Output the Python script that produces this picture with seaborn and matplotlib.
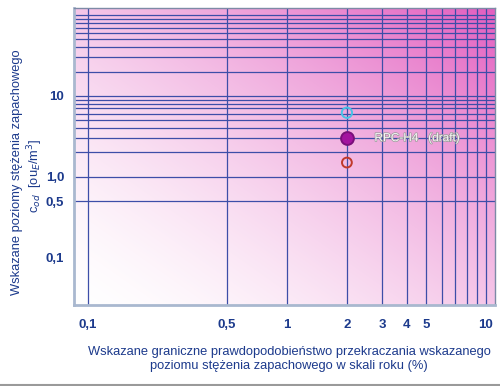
import matplotlib
matplotlib.use("Agg")
import matplotlib.pyplot as plt
import matplotlib.patheffects as pe
from matplotlib.lines import Line2D
import numpy as np
import pandas as pd
import seaborn as sns

# dane
X_GRID = [0.1, 0.5, 1, 2, 3, 4, 5, 6, 7, 8, 9, 10]
Y_GRID = [0.5, 1, 2, 3, 4, 5, 6, 7, 8, 9, 10, 20, 30, 40, 50, 60, 70, 80, 90, 100]
X_TICKS = [0.1, 0.5, 1, 2, 3, 4, 5, 10]
X_TICK_LABELS = ["0,1", "0,5", "1", "2", "3", "4", "5", "10"]
Y_TICKS = [0.1, 0.5, 1, 10]
Y_TICK_LABELS = ["0,1", "0,5", "1,0", "10"]

POINT_X = [2, 2, 2]
POINT_Y = [6.2, 3.0, 1.5]
POINT_KIND = ["cyan", "purple", "red"]

LABEL_TEXT = "RPC-H4   (draft)"
LABEL_X, LABEL_Y = 2.75, 3.0

XLIM = (0.085, 11.1)
YLIM = (0.026, 122)

BLUE = "#1c3a8c"
GRID = "#3d4ea8"

sns.set_style("white")
plt.rcParams["font.family"] = ["Liberation Sans", "DejaVu Sans"]

fig = plt.figure(figsize=(5, 3.86), dpi=100)
ax = fig.add_axes([0.148, 0.21, 0.842, 0.769])
ax.set_xscale("log")
ax.set_yscale("log")
ax.set_xlim(*XLIM)
ax.set_ylim(*YLIM)

# tło - gradient od bieli (lewy dół) do magenty (prawa góra)
n = 200
u, v = np.meshgrid(np.linspace(0, 1, n), np.linspace(1, 0, n))
t = np.clip((u + v) / 2, 0, 1) ** 1.5
white = np.array([1.0, 1.0, 1.0])
mag = np.array([0.89, 0.37, 0.75])
img = white[None, None, :] * (1 - t[..., None]) + mag[None, None, :] * t[..., None]
ax.imshow(img, extent=[0, 1, 0, 1], transform=ax.transAxes, aspect="auto",
          zorder=0, interpolation="bilinear")

for xv in X_GRID:
    ax.axvline(xv, color=GRID, lw=0.9, zorder=1)
for yv in Y_GRID:
    ax.axhline(yv, color=GRID, lw=0.9, zorder=1)

df = pd.DataFrame({"x": POINT_X, "y": POINT_Y, "kind": POINT_KIND})
faces = {"cyan": "none", "purple": "#a3139f", "red": "none"}
edges = {"cyan": "#49c4e6", "purple": "#7a0f7a", "red": "#c0392b"}
sizes = {"cyan": 55, "purple": 85, "red": 50}
for kind, sub in df.groupby("kind"):
    sns.scatterplot(data=sub, x="x", y="y", ax=ax, s=sizes[kind],
                    facecolor=faces[kind], edgecolor=edges[kind],
                    linewidth=1.4, zorder=3, legend=False)

ax.text(LABEL_X, LABEL_Y, LABEL_TEXT, fontsize=8.5, color="#f6f6f6",
        va="center", ha="left", zorder=4,
        path_effects=[pe.withStroke(linewidth=1.0, foreground="#9a9a9a")])

ax.set_xticks(X_TICKS)
ax.set_xticklabels(X_TICK_LABELS)
ax.set_yticks(Y_TICKS)
ax.set_yticklabels(Y_TICK_LABELS)
ax.minorticks_off()
ax.tick_params(length=0, labelsize=9.5, labelcolor=BLUE)
ax.tick_params(axis="x", pad=10)
ax.tick_params(axis="y", pad=7)
for lab in ax.get_xticklabels() + ax.get_yticklabels():
    lab.set_fontweight("bold")

ax.set_xlabel("")
ax.set_ylabel("")
for s in ["top", "right"]:
    ax.spines[s].set_color("#7d8aa6")
    ax.spines[s].set_linewidth(1.0)
for s in ["left", "bottom"]:
    ax.spines[s].set_color("#a9b8cf")
    ax.spines[s].set_linewidth(2.0)

fig.text(0.578, 0.07, "Wskazane graniczne prawdopodobieństwo przekraczania wskazanego\n"
         "poziomu stężenia zapachowego w skali roku (%)",
         ha="center", va="center", fontsize=9.3, color=BLUE, linespacing=1.2)
fig.text(0.034, 0.555, "Wskazane poziomy stężenia zapachowego",
         rotation=90, ha="center", va="center", fontsize=9.3, color=BLUE)
fig.text(0.071, 0.545, r"c$_{od}$  [ou$_E$/m$^3$]",
         rotation=90, ha="center", va="center", fontsize=9.3, color=BLUE)

fig.add_artist(Line2D([0, 1], [0.003, 0.003], transform=fig.transFigure,
                      color="#9a9a9a", lw=1.5))

fig.savefig("out.png", dpi=100)
